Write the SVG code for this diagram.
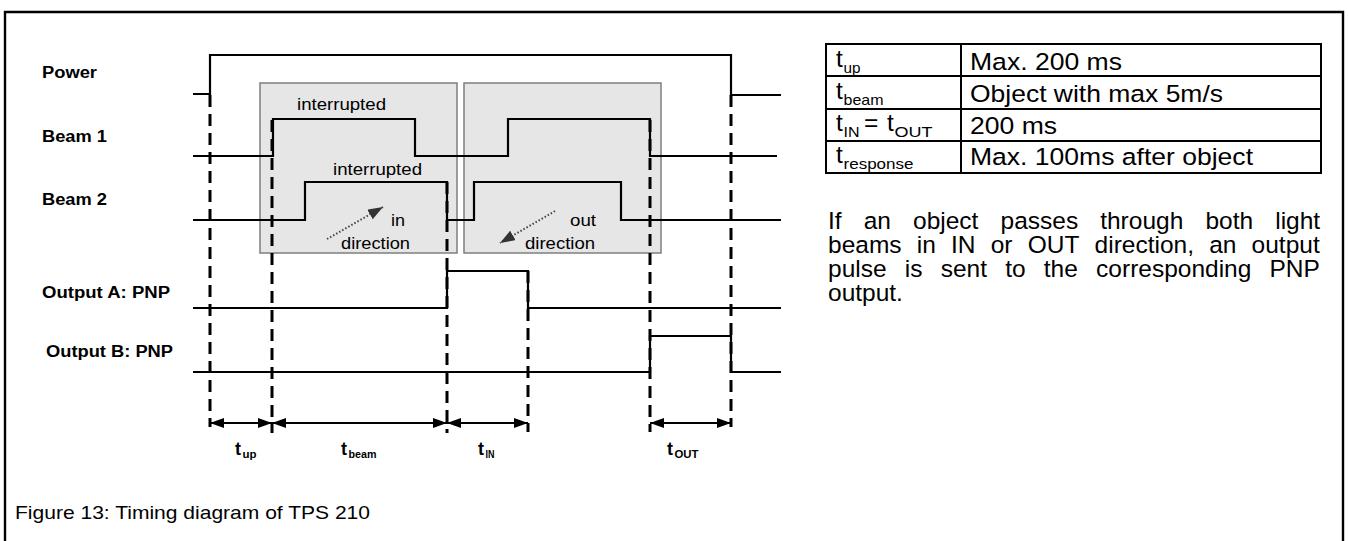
<svg xmlns="http://www.w3.org/2000/svg" width="1348" height="541" viewBox="0 0 1348 541">
<defs>
<style>
.sig{fill:none;stroke:#000;stroke-width:2.2;stroke-linejoin:miter}
.dash{fill:none;stroke:#000;stroke-width:3;stroke-dasharray:12 7}
.dim{fill:none;stroke:#000;stroke-width:2;marker-start:url(#ah);marker-end:url(#ah)}
.dot{fill:none;stroke:#444;stroke-width:2;stroke-dasharray:1.5 2;marker-end:url(#dh)}
.box{fill:#e6e6e6;stroke:#7f7f7f;stroke-width:1.5}
.lbl{font-family:"Liberation Sans",Arial,sans-serif;font-weight:bold;font-size:16px;fill:#000}
.sm{font-family:"Liberation Sans",Arial,sans-serif;font-size:16px;fill:#000}
.tb{font-family:"Liberation Sans",Arial,sans-serif;font-size:24.5px;fill:#000}
.ts{font-family:"Liberation Sans",Arial,sans-serif;font-size:15px;fill:#000}
.tl{font-family:"Liberation Sans",Arial,sans-serif;font-weight:bold;font-size:18px;fill:#000}
.tls{font-family:"Liberation Sans",Arial,sans-serif;font-weight:bold;font-size:10px;fill:#000}
.par{font-family:"Liberation Sans",Arial,sans-serif;font-size:24.5px;fill:#000}
.cap{font-family:"Liberation Sans",Arial,sans-serif;font-size:19px;fill:#000}
.cell{fill:none;stroke:#000;stroke-width:2}
</style>
<marker id="ah" viewBox="0 0 14 10" refX="14" refY="5" markerWidth="14" markerHeight="10" markerUnits="userSpaceOnUse" orient="auto-start-reverse">
<path d="M0,0 L14,5 L0,10 z" fill="#000"/>
</marker>
<marker id="dh" viewBox="0 0 15 11" refX="15" refY="5.5" markerWidth="15" markerHeight="11" markerUnits="userSpaceOnUse" orient="auto">
<path d="M0,0 L15,5.5 L0,11 z" fill="#333"/>
</marker>
</defs>
<rect width="1348" height="541" fill="#fff"/>
<path d="M5,541 V12 H1343 V541" fill="none" stroke="#000" stroke-width="2.4"/>

<g id="zones">
<rect class="box" x="260" y="83" width="197" height="170"/>
<rect class="box" x="464" y="83" width="197" height="170"/>
<text class="sm" x="297" y="110" textLength="89" lengthAdjust="spacingAndGlyphs">interrupted</text>
<text class="sm" x="333" y="175" textLength="89" lengthAdjust="spacingAndGlyphs">interrupted</text>
<text class="sm" x="391" y="226" textLength="14" lengthAdjust="spacingAndGlyphs">in</text>
<text class="sm" x="341" y="249" textLength="69" lengthAdjust="spacingAndGlyphs">direction</text>
<text class="sm" x="570" y="226" textLength="26" lengthAdjust="spacingAndGlyphs">out</text>
<text class="sm" x="525" y="249" textLength="70" lengthAdjust="spacingAndGlyphs">direction</text>
</g>

<g id="power">
<text class="lbl" x="42" y="78" textLength="55" lengthAdjust="spacingAndGlyphs">Power</text>
<path class="sig" d="M193,94 H210 V55 H731 V95 H781"/>
</g>
<g id="beam1">
<text class="lbl" x="42" y="142" textLength="65" lengthAdjust="spacingAndGlyphs">Beam 1</text>
<path class="sig" d="M193,156 H273 V119 H415 V156 H508 V119 H650 V156 H777"/>
</g>
<g id="beam2">
<text class="lbl" x="42" y="205" textLength="65" lengthAdjust="spacingAndGlyphs">Beam 2</text>
<path class="sig" d="M193,220 H305 V182 H447 V220 H474 V182 H621 V220 H781"/>
</g>
<g id="outputA">
<text class="lbl" x="42" y="298" textLength="128" lengthAdjust="spacingAndGlyphs">Output A: PNP</text>
<path class="sig" d="M193,308 H447 V271 H528 V308 H781"/>
</g>
<g id="outputB">
<text class="lbl" x="46" y="357" textLength="127" lengthAdjust="spacingAndGlyphs">Output B: PNP</text>
<path class="sig" d="M193,372 H650 V336 H731 V372 H781"/>
</g>

<g id="connectors">
<path class="dash" d="M210,95 V427"/>
<path class="dash" d="M272,120 V433"/>
<path class="dash" d="M447,182 V433"/>
<path class="dash" d="M528,271 V432"/>
<path class="dash" d="M650,120 V432"/>
<path class="dash" d="M731,95 V427"/>
<path class="dim" d="M210,423 H272"/>
<path class="dim" d="M272,423 H447"/>
<path class="dim" d="M447,423 H528"/>
<path class="dim" d="M650,423 H731"/>
<path class="dot" d="M327,239 L383,207"/>
<path class="dot" d="M555,211 L500,243"/>
</g>

<g id="dimlabels">
<text class="tl" x="235" y="455">t</text><text class="tls" x="242.5" y="458" textLength="14" lengthAdjust="spacingAndGlyphs">up</text>
<text class="tl" x="341" y="455">t</text><text class="tls" x="348.5" y="458" textLength="28" lengthAdjust="spacingAndGlyphs">beam</text>
<text class="tl" x="478" y="455">t</text><text class="tls" x="485.5" y="458" textLength="9" lengthAdjust="spacingAndGlyphs">IN</text>
<text class="tl" x="667" y="455">t</text><text class="tls" x="674.5" y="458" textLength="24" lengthAdjust="spacingAndGlyphs">OUT</text>
</g>

<g id="table">
<rect class="cell" x="826" y="44" width="495" height="129"/>
<path class="cell" d="M961,44 V173 M826,76 H1321 M826,109 H1321 M826,141 H1321"/>
<text class="tb" x="836" y="67">t</text><text class="ts" x="843.5" y="72.5" textLength="17" lengthAdjust="spacingAndGlyphs">up</text>
<text class="tb" x="836" y="99">t</text><text class="ts" x="843.5" y="104.5" textLength="40" lengthAdjust="spacingAndGlyphs">beam</text>
<text class="tb" x="836" y="131">t</text><text class="ts" x="843.5" y="136.5" textLength="16" lengthAdjust="spacingAndGlyphs">IN</text>
<text class="tb" x="864" y="131">=</text>
<text class="tb" x="887" y="131">t</text><text class="ts" x="894.5" y="136.5" textLength="38" lengthAdjust="spacingAndGlyphs">OUT</text>
<text class="tb" x="836" y="163">t</text><text class="ts" x="843.5" y="168.5" textLength="70" lengthAdjust="spacingAndGlyphs">response</text>
<text class="tb" x="970" y="70" textLength="152" lengthAdjust="spacingAndGlyphs">Max. 200 ms</text>
<text class="tb" x="970" y="102" textLength="253" lengthAdjust="spacingAndGlyphs">Object with max 5m/s</text>
<text class="tb" x="970" y="133.5" textLength="87" lengthAdjust="spacingAndGlyphs">200 ms</text>
<text class="tb" x="970" y="165" textLength="283" lengthAdjust="spacingAndGlyphs">Max. 100ms after object</text>
</g>

<g id="description" class="par">
<text x="828" y="228.5">If</text><text x="863.7" y="228.5">an</text><text x="913" y="228.5">object</text><text x="1000.5" y="228.5">passes</text><text x="1100.2" y="228.5">through</text><text x="1205.4" y="228.5">both</text><text x="1275.2" y="228.5">light</text>
<text x="828" y="252.5">beams</text><text x="916.7" y="252.5">in</text><text x="951" y="252.5">IN</text><text x="990.7" y="252.5">or</text><text x="1027.7" y="252.5">OUT</text><text x="1094.6" y="252.5">direction,</text><text x="1209.2" y="252.5">an</text><text x="1251.6" y="252.5">output</text>
<text x="828" y="276.5">pulse</text><text x="904.8" y="276.5">is</text><text x="940.7" y="276.5">sent</text><text x="1005.2" y="276.5">to</text><text x="1043.8" y="276.5">the</text><text x="1096.1" y="276.5">corresponding</text><text x="1269.5" y="276.5">PNP</text>
<text x="828" y="300.5">output.</text>
</g>

<text class="cap" x="15" y="519" textLength="355" lengthAdjust="spacingAndGlyphs">Figure 13: Timing diagram of TPS 210</text>
</svg>
